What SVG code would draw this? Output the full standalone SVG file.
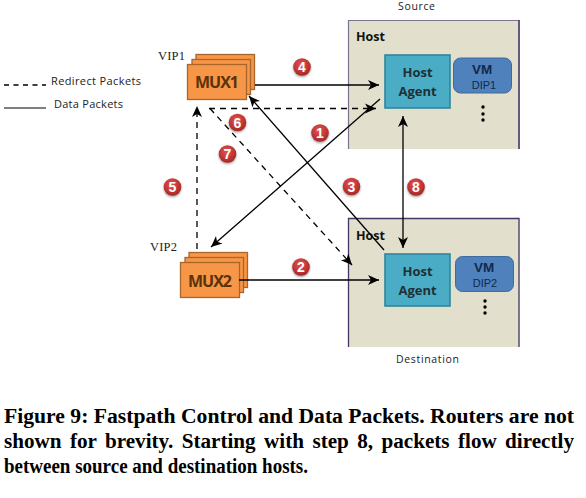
<svg xmlns="http://www.w3.org/2000/svg" width="586" height="498" viewBox="0 0 586 498">
<style>
.lbl{font-family:"Open Sans","Noto Sans",sans-serif;fill:#222}
.fill{fill:#e2dfcc}
.hl{font-family:"Open Sans","Liberation Sans",sans-serif;font-weight:700;font-size:12.5px;fill:#111}
.agent{fill:#4bacc6;stroke:#31859b;stroke-width:1.6}
.agt{font-family:"Open Sans","Liberation Sans",sans-serif;font-weight:700;font-size:13px;fill:#1f3036;text-anchor:middle}
.vm{fill:#4f81bd;stroke:#3f6a9e;stroke-width:1}
.vmt{font-family:"Liberation Sans",sans-serif;font-weight:700;font-size:13.5px;fill:#12294a;text-anchor:middle}
.dip{font-family:"Liberation Sans",sans-serif;font-size:11px;fill:#12294a;text-anchor:middle}
.mux{fill:#f79646;stroke:#a8662c;stroke-width:1.3}
.mt{font-family:"Open Sans","Liberation Sans",sans-serif;font-weight:700;font-size:16px;fill:#5c3208;text-anchor:middle}
.vip{font-family:"Liberation Serif",serif;font-size:12.5px;fill:#222}
.s{fill:none;stroke:#000;stroke-width:1.3}
.d{fill:none;stroke:#000;stroke-width:1.3;stroke-dasharray:6 5}
.bn{font-family:"Liberation Sans",sans-serif;font-weight:700;font-size:14px;fill:#fff;text-anchor:middle}
.cap{font-family:"Liberation Serif",serif;font-weight:700;font-size:20.5px;fill:#000}
</style>
<defs>
<marker id="a" markerUnits="userSpaceOnUse" markerWidth="14" markerHeight="12" refX="12" refY="6" orient="auto-start-reverse"><path d="M1 1 L12 6 L1 11 L4 6 Z" fill="#000"/></marker>
<radialGradient id="r" cx="0.45" cy="0.35" r="0.7"><stop offset="0" stop-color="#e8524f"/><stop offset="1" stop-color="#a02422"/></radialGradient>
<filter id="sh" x="-30%" y="-30%" width="160%" height="170%"><feDropShadow dx="0" dy="1.2" stdDeviation="0.9" flood-color="#000" flood-opacity="0.4"/></filter>
<g id="b"><circle r="8.800" fill="url(#r)" filter="url(#sh)"/></g>
</defs>

<g id="legend">
<path d="M4 85H46" fill="none" stroke="#000" stroke-width="1.3" stroke-dasharray="5 4.500"/>
<path d="M4 108H46" fill="none" stroke="#555" stroke-width="1.500"/>
<text class="lbl" x="51" y="85" font-size="11" textLength="90">Redirect Packets</text>
<text class="lbl" x="54" y="108" font-size="11" textLength="69">Data Packets</text>
</g>

<g id="host-source">
<rect class="fill" x="348" y="20" width="171.500" height="129"/>
<path d="M348.500 149V20.500H519" fill="none" stroke="#7b7490" stroke-width="1.200"/>
<path d="M519 20V149" fill="none" stroke="#453763" stroke-width="1.600"/>
<text class="hl" x="356" y="41" textLength="29">Host</text>
<text class="lbl" x="398" y="10" font-size="10.500" textLength="37">Source</text>
</g>
<g id="agent-source">
<rect class="agent" x="385" y="55" width="65" height="53"/>
<text class="agt" x="417.500" y="77">Host</text>
<text class="agt" x="417.500" y="96">Agent</text>
</g>
<g id="vm1">
<rect class="vm" x="453.500" y="58" width="58" height="35" rx="7"/>
<text class="vmt" x="482" y="74">VM</text>
<text class="dip" x="484" y="89">DIP1</text>
<circle cx="483" cy="107" r="1.700"/><circle cx="483" cy="114" r="1.700"/><circle cx="483" cy="120" r="1.700"/>
</g>

<g id="host-destination">
<rect class="fill" x="348" y="218" width="171.500" height="129"/>
<path d="M348.500 347V218.500H519V347" fill="none" stroke="#453763" stroke-width="1.300"/>
<text class="hl" x="356" y="240" textLength="29">Host</text>
<text class="lbl" x="396" y="363" font-size="10.500" textLength="63">Destination</text>
</g>
<g id="agent-destination">
<rect class="agent" x="385" y="254" width="65" height="52"/>
<text class="agt" x="417.500" y="276">Host</text>
<text class="agt" x="417.500" y="295">Agent</text>
</g>
<g id="vm2">
<rect class="vm" x="455.500" y="256.500" width="58" height="35" rx="7"/>
<text class="vmt" x="484" y="272">VM</text>
<text class="dip" x="485" y="287">DIP2</text>
<circle cx="485" cy="301" r="1.700"/><circle cx="485" cy="307" r="1.700"/><circle cx="485" cy="313" r="1.700"/>
</g>

<g id="mux1">
<rect class="mux" x="196" y="54.500" width="58.500" height="35"/>
<rect class="mux" x="192" y="59.500" width="58.500" height="35"/>
<rect class="mux" x="187.500" y="64.500" width="59" height="35"/>
<text class="mt" x="217" y="88" textLength="44">MUX1</text>
<text class="vip" x="158" y="60" textLength="27">VIP1</text>
</g>
<g id="mux2">
<rect class="mux" x="189" y="252.500" width="58.500" height="35"/>
<rect class="mux" x="185" y="257.500" width="58.500" height="35"/>
<rect class="mux" x="180.500" y="262.500" width="59" height="35"/>
<text class="mt" x="210" y="287" textLength="44">MUX2</text>
<text class="vip" x="150" y="251" textLength="27">VIP2</text>
</g>

<g id="connectors">
<path class="s" d="M255 85H379" marker-end="url(#a)"/>
<path class="s" d="M380 99L211 247" marker-end="url(#a)"/>
<path class="s" d="M384 250L249 96" marker-end="url(#a)"/>
<path class="s" d="M239 280H379" marker-end="url(#a)"/>
<path class="s" d="M403 116V248" marker-start="url(#a)" marker-end="url(#a)"/>
<path class="d" d="M209 108.500H376" marker-end="url(#a)"/>
<path class="d" d="M210 108.500L352 265" marker-end="url(#a)"/>
<path class="d" d="M197 249V106" marker-end="url(#a)"/>
</g>

<g id="badges">
<use href="#b" x="302" y="67"/><text class="bn" x="302" y="72">4</text>
<use href="#b" x="320" y="133"/><text class="bn" x="320" y="138">1</text>
<use href="#b" x="237.500" y="122.500"/><text class="bn" x="237.500" y="127.500">6</text>
<use href="#b" x="227.500" y="154"/><text class="bn" x="227.500" y="159">7</text>
<use href="#b" x="172.500" y="187"/><text class="bn" x="172.500" y="192">5</text>
<use href="#b" x="351.500" y="186.500"/><text class="bn" x="351.500" y="191.500">3</text>
<use href="#b" x="416" y="187"/><text class="bn" x="416" y="192">8</text>
<use href="#b" x="301" y="267"/><text class="bn" x="301" y="272">2</text>
</g>

<g id="caption">
<text class="cap" x="4" y="423" textLength="570" lengthAdjust="spacingAndGlyphs">Figure 9: Fastpath Control and Data Packets. Routers are not</text>
<text class="cap" x="4" y="448" word-spacing="3" textLength="570" lengthAdjust="spacingAndGlyphs">shown for brevity.  Starting with step 8, packets flow directly</text>
<text class="cap" x="4" y="473" textLength="304" lengthAdjust="spacingAndGlyphs">between source and destination hosts.</text>
</g>
</svg>
